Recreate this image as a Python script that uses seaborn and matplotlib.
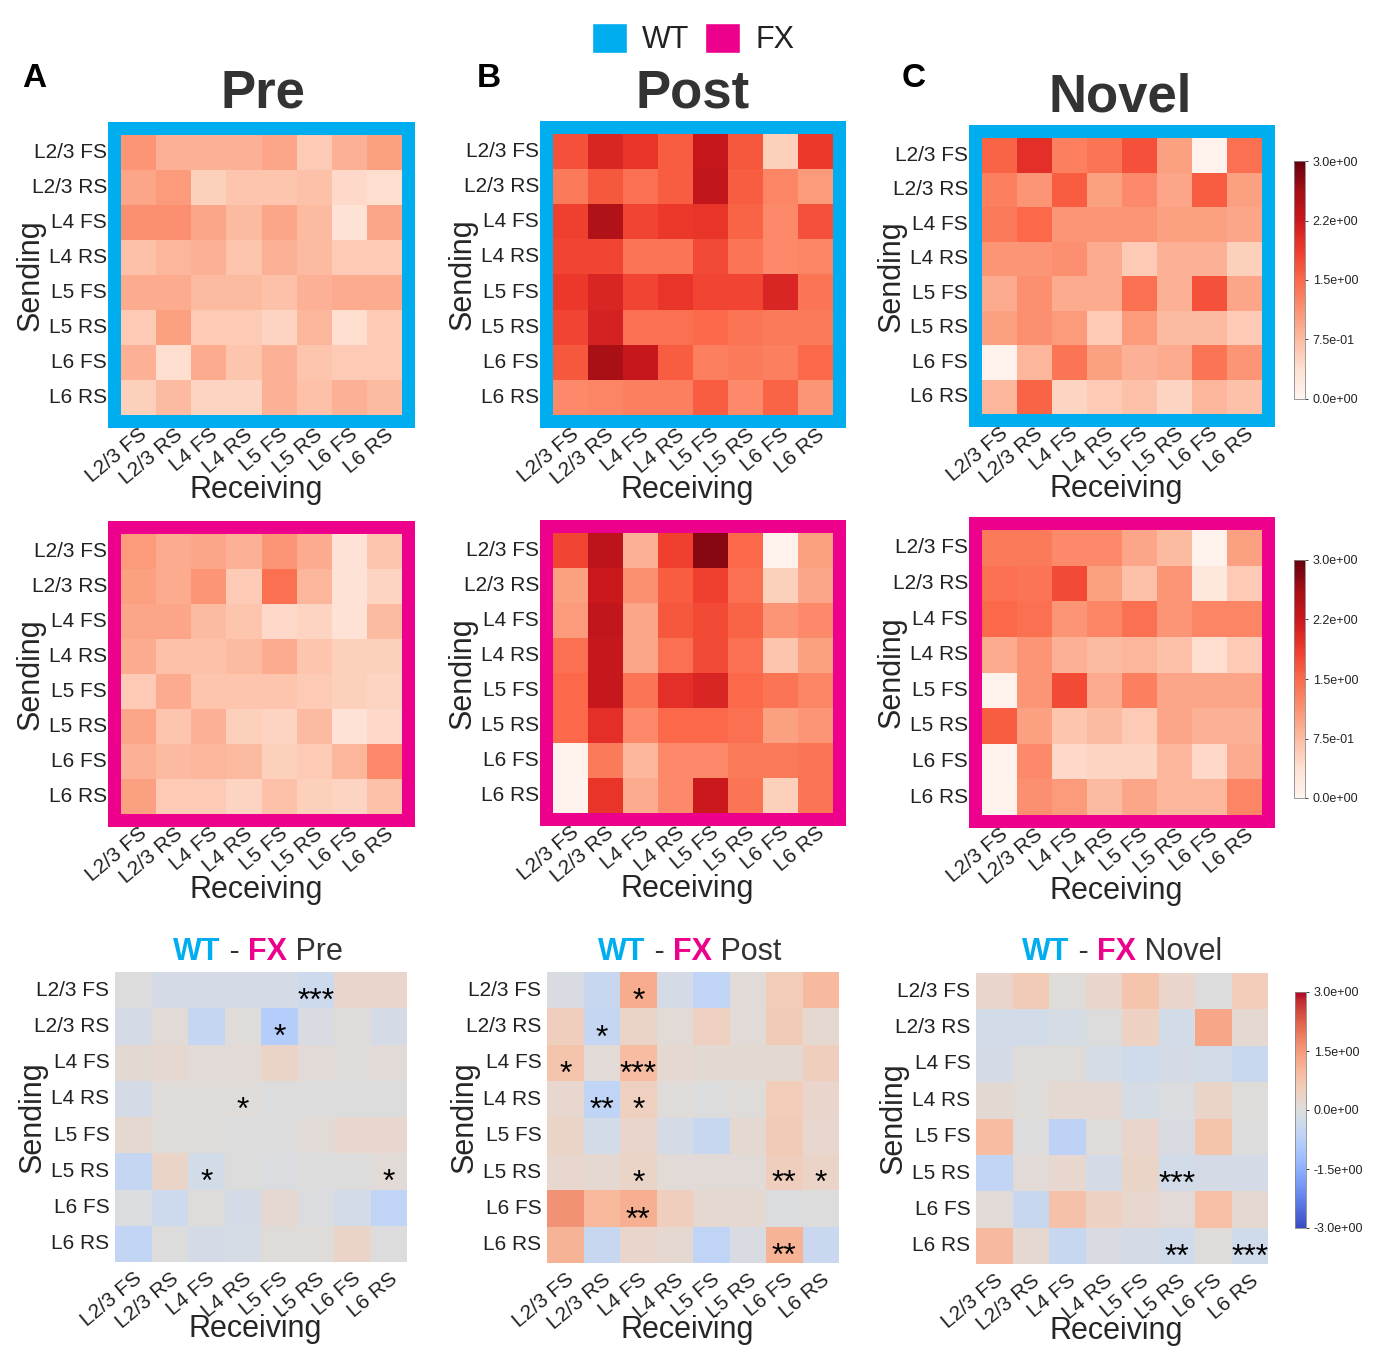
import numpy as np
import pandas as pd
import matplotlib
matplotlib.use("Agg")
import matplotlib.pyplot as plt
import seaborn as sns
from matplotlib.patches import Rectangle, Patch

# Datos

cells = ["L2/3 FS", "L2/3 RS", "L4 FS", "L4 RS", "L5 FS", "L5 RS", "L6 FS", "L6 RS"]
conditions = ["Pre", "Post", "Novel"]

wt_pre = [
    [1.10, 0.85, 0.85, 0.85, 0.95, 0.60, 0.85, 1.00],
    [0.95, 1.05, 0.55, 0.65, 0.65, 0.70, 0.45, 0.40],
    [1.15, 1.15, 0.95, 0.75, 0.95, 0.75, 0.35, 0.95],
    [0.70, 0.80, 0.85, 0.65, 0.85, 0.75, 0.60, 0.60],
    [0.90, 0.90, 0.75, 0.75, 0.70, 0.85, 0.90, 0.90],
    [0.60, 1.00, 0.60, 0.60, 0.50, 0.80, 0.40, 0.60],
    [0.85, 0.40, 0.90, 0.65, 0.85, 0.65, 0.60, 0.60],
    [0.55, 0.75, 0.50, 0.50, 0.85, 0.70, 0.85, 0.75],
]
wt_post = [
    [1.70, 2.10, 1.95, 1.60, 2.30, 1.65, 0.55, 1.90],
    [1.35, 1.65, 1.45, 1.60, 2.35, 1.60, 1.25, 1.05],
    [1.85, 2.50, 1.80, 1.90, 1.95, 1.55, 1.20, 1.70],
    [1.80, 1.80, 1.40, 1.40, 1.75, 1.40, 1.20, 1.25],
    [1.90, 2.10, 1.80, 1.95, 1.80, 1.80, 2.10, 1.40],
    [1.80, 2.15, 1.45, 1.45, 1.50, 1.40, 1.35, 1.35],
    [1.65, 2.60, 2.30, 1.60, 1.30, 1.35, 1.30, 1.50],
    [1.20, 1.25, 1.30, 1.30, 1.60, 1.20, 1.55, 1.10],
]
wt_novel = [
    [1.55, 2.00, 1.30, 1.40, 1.70, 1.00, 0.05, 1.45],
    [1.30, 1.10, 1.60, 1.00, 1.20, 0.95, 1.60, 1.00],
    [1.35, 1.50, 1.10, 1.10, 1.10, 1.00, 1.00, 0.95],
    [1.10, 1.10, 1.15, 0.90, 0.60, 0.85, 0.85, 0.55],
    [0.90, 1.15, 0.90, 0.90, 1.45, 0.85, 1.70, 0.95],
    [1.00, 1.15, 1.05, 0.60, 1.05, 0.75, 0.75, 0.60],
    [0.05, 0.80, 1.40, 1.00, 0.85, 0.90, 1.40, 1.10],
    [0.80, 1.55, 0.50, 0.60, 0.70, 0.50, 0.80, 0.70],
]
fx_pre = [
    [1.05, 0.90, 0.95, 0.85, 1.10, 0.90, 0.35, 0.65],
    [1.00, 0.90, 1.10, 0.60, 1.45, 0.80, 0.35, 0.50],
    [0.95, 0.95, 0.75, 0.65, 0.45, 0.50, 0.35, 0.75],
    [0.90, 0.70, 0.70, 0.75, 0.90, 0.65, 0.55, 0.55],
    [0.60, 0.90, 0.65, 0.65, 0.65, 0.60, 0.55, 0.50],
    [0.95, 0.65, 0.85, 0.55, 0.50, 0.75, 0.35, 0.45],
    [0.85, 0.75, 0.80, 0.75, 0.55, 0.60, 0.80, 1.20],
    [1.00, 0.60, 0.60, 0.50, 0.70, 0.55, 0.50, 0.70],
]
fx_post = [
    [1.80, 2.40, 0.85, 1.85, 2.80, 1.50, 0.05, 1.00],
    [1.00, 2.25, 1.15, 1.60, 1.85, 1.45, 0.55, 0.95],
    [1.05, 2.35, 0.95, 1.65, 1.75, 1.55, 1.10, 1.20],
    [1.45, 2.30, 0.95, 1.45, 1.75, 1.45, 0.65, 1.00],
    [1.50, 2.30, 1.40, 2.00, 2.10, 1.50, 1.40, 1.25],
    [1.50, 2.00, 1.20, 1.50, 1.50, 1.45, 1.00, 1.10],
    [0.05, 1.35, 0.80, 1.20, 1.20, 1.35, 1.35, 1.40],
    [0.05, 1.95, 0.90, 1.20, 2.25, 1.40, 0.55, 1.40],
]
fx_novel = [
    [1.35, 1.35, 1.20, 1.20, 0.95, 0.75, 0.05, 1.00],
    [1.45, 1.40, 1.75, 1.00, 0.70, 1.10, 0.25, 0.60],
    [1.50, 1.45, 1.10, 1.25, 1.45, 1.10, 1.25, 1.25],
    [0.90, 1.10, 0.85, 0.75, 0.80, 0.70, 0.40, 0.60],
    [0.05, 1.10, 1.75, 0.90, 1.30, 0.95, 0.95, 0.95],
    [1.60, 1.00, 0.65, 0.75, 0.60, 0.95, 0.85, 0.85],
    [0.05, 1.20, 0.45, 0.50, 0.50, 0.80, 0.45, 0.90],
    [0.05, 1.15, 1.05, 0.75, 0.95, 0.80, 0.80, 1.25],
]
diff_pre = [
    [0.00, -0.20, -0.20, -0.20, -0.20, -0.35, 0.30, 0.30],
    [-0.20, 0.10, -0.50, 0.05, -0.80, -0.10, 0.05, -0.20],
    [0.15, 0.20, 0.10, 0.10, 0.35, 0.10, 0.05, 0.10],
    [-0.20, 0.05, 0.05, 0.05, 0.00, 0.00, 0.00, 0.00],
    [0.20, 0.05, 0.05, 0.00, 0.00, 0.10, 0.25, 0.25],
    [-0.50, 0.35, -0.25, 0.00, -0.05, 0.00, 0.00, 0.10],
    [-0.05, -0.35, 0.05, -0.20, 0.20, -0.05, -0.25, -0.60],
    [-0.55, 0.00, -0.20, -0.15, 0.05, 0.05, 0.35, 0.00],
]
diff_post = [
    [-0.10, -0.45, 1.20, -0.20, -0.60, 0.10, 0.55, 0.95],
    [0.50, -0.50, 0.35, 0.10, 0.45, 0.10, 0.60, 0.20],
    [0.75, 0.10, 0.90, 0.20, 0.15, 0.15, 0.15, 0.50],
    [0.25, -0.60, 0.45, 0.05, 0.00, 0.05, 0.55, 0.30],
    [0.35, -0.25, 0.30, -0.20, -0.45, 0.20, 0.60, 0.25],
    [0.25, 0.20, 0.35, 0.10, 0.10, 0.10, 0.50, 0.35],
    [1.60, 1.00, 1.15, 0.50, 0.20, 0.20, -0.05, 0.00],
    [1.10, -0.45, 0.30, 0.20, -0.60, -0.10, 1.10, -0.40],
]
diff_novel = [
    [0.30, 0.60, 0.05, 0.30, 0.75, 0.30, 0.00, 0.55],
    [-0.25, -0.25, -0.15, 0.00, 0.40, -0.25, 1.30, 0.20],
    [-0.20, 0.05, 0.05, -0.15, -0.30, -0.20, -0.25, -0.40],
    [0.15, 0.05, 0.20, 0.20, -0.15, -0.05, 0.35, 0.05],
    [0.90, 0.00, -0.65, 0.05, 0.30, -0.10, 0.75, 0.00],
    [-0.55, 0.10, 0.25, -0.20, 0.35, -0.25, -0.20, -0.20],
    [0.10, -0.45, 0.80, 0.40, 0.25, 0.10, 0.85, 0.20],
    [0.95, 0.20, -0.45, -0.10, -0.20, -0.30, 0.05, -0.30],
]

# significancia: (fila, columna, texto)
stars_pre = [(0, 5, "***"), (1, 4, "*"), (3, 3, "*"), (5, 2, "*"), (5, 7, "*")]
stars_post = [(0, 2, "*"), (1, 1, "*"), (2, 0, "*"), (2, 2, "***"), (3, 1, "**"),
              (3, 2, "*"), (5, 2, "*"), (5, 6, "**"), (5, 7, "*"), (6, 2, "**"),
              (7, 6, "**")]
stars_novel = [(5, 5, "***"), (7, 5, "**"), (7, 7, "***")]

wt_data = [wt_pre, wt_post, wt_novel]
fx_data = [fx_pre, fx_post, fx_novel]
diff_data = [diff_pre, diff_post, diff_novel]
stars_data = [stars_pre, stars_post, stars_novel]

reds_ticks = [0, 0.75, 1.5, 2.25, 3.0]
diff_ticks = [-3.0, -1.5, 0.0, 1.5, 3.0]

WT_COLOR = "#00AEEF"
FX_COLOR = "#EC008C"
DARK = "#333333"

# Layout (pixeles)

sns.set_style("white")
plt.rcParams["font.family"] = ["Liberation Sans", "DejaVu Sans"]
plt.rcParams["text.color"] = "#222222"
plt.rcParams["xtick.color"] = "#222222"
plt.rcParams["ytick.color"] = "#222222"

W, H = 1375, 1359
fig = plt.figure(figsize=(W / 100, H / 100), dpi=100)


def box(l, t, r, b):
    return [l / W, 1 - b / H, (r - l) / W, (b - t) / H]


top_boxes = [(121, 135, 402, 415), (553, 134, 833, 415), (982, 138, 1262, 414)]
mid_boxes = [(121, 534, 402, 814), (553, 533, 833, 813), (982, 530, 1262, 815)]
bot_boxes = [(115, 972, 407, 1262), (547, 972, 839, 1263), (976, 973, 1268, 1264)]
cbar_boxes = [(1294, 161, 1305, 399), (1294, 560, 1305, 798), (1295, 992, 1306, 1228)]
frame_w = 13


def style_axes(ax, px, ylab_off, xlab_off, ypad, xpad, ticklen=0):
    l, t, r, b = px
    ax.tick_params(axis="y", length=0, labelsize=15, pad=ypad)
    ax.tick_params(axis="x", length=ticklen, labelsize=15, pad=xpad)
    ax.set_yticklabels(ax.get_yticklabels(), rotation=0)
    ax.set_xticklabels(ax.get_xticklabels(), rotation=40, ha="right",
                       rotation_mode="anchor")
    ax.set_ylabel("Sending", fontsize=22)
    ax.set_xlabel("Receiving", fontsize=22)
    # la etiqueta y rotada queda anclada por su borde derecho
    ax.yaxis.set_label_coords(-ylab_off / (r - l), 0.5)
    ax.xaxis.set_label_coords(0.48, -xlab_off / (b - t))


def style_cbar(cax):
    cax.tick_params(labelsize=9, length=2, width=0.6)
    for sp in cax.spines.values():
        sp.set_linewidth(0.6)
        sp.set_edgecolor("#888888")


# Filas WT y FX
for row, (datasets, boxes, color, xoff) in enumerate(
        [(wt_data, top_boxes, WT_COLOR, 60), (fx_data, mid_boxes, FX_COLOR, 61)]):
    for i, (mat, px) in enumerate(zip(datasets, boxes)):
        l, t, r, b = px
        fig.add_artist(Rectangle(((l - frame_w) / W, 1 - (b + frame_w) / H),
                                 (r - l + 2 * frame_w) / W, (b - t + 2 * frame_w) / H,
                                 transform=fig.transFigure, facecolor=color,
                                 edgecolor="none", zorder=-1))
        ax = fig.add_axes(box(*px))
        df = pd.DataFrame(mat, index=cells, columns=cells)
        if i == 2:
            cax = fig.add_axes(box(*cbar_boxes[row]))
            sns.heatmap(df, ax=ax, cmap="Reds", vmin=0, vmax=3, cbar_ax=cax,
                        cbar_kws={"ticks": reds_ticks, "format": "%.1e"})
            style_cbar(cax)
        else:
            sns.heatmap(df, ax=ax, cmap="Reds", vmin=0, vmax=3, cbar=False)
        style_axes(ax, px, 75, xoff, ypad=10, xpad=7)

# Fila de diferencias
for i, (mat, px, stars, cond) in enumerate(zip(diff_data, bot_boxes, stars_data, conditions)):
    ax = fig.add_axes(box(*px))
    df = pd.DataFrame(mat, index=cells, columns=cells)
    if i == 2:
        cax = fig.add_axes(box(*cbar_boxes[2]))
        sns.heatmap(df, ax=ax, cmap="coolwarm", vmin=-3, vmax=3, cbar_ax=cax,
                    cbar_kws={"ticks": diff_ticks, "format": "%.1e"})
        style_cbar(cax)
    else:
        sns.heatmap(df, ax=ax, cmap="coolwarm", vmin=-3, vmax=3, cbar=False)
    for rr, cc, s in stars:
        ax.text(cc + 0.5, rr + 1.05, s, ha="center", va="baseline",
                fontsize=23, color="black")
    style_axes(ax, px, 67, 52, ypad=4, xpad=2, ticklen=3)

    # titulo multicolor "WT - FX Cond"
    x0 = [173, 598, 1022][i]
    t0 = fig.text(x0 / W, 1 - 960 / H, "WT", color=WT_COLOR, fontsize=22,
                  weight="bold", va="baseline")
    prev = t0
    for s, c, w in [(" - ", DARK, "normal"), ("FX", FX_COLOR, "bold"),
                    (" " + cond, DARK, "normal")]:
        prev = ax.annotate(s, xy=(1, 0), xycoords=prev, va="bottom", ha="left",
                           color=c, fontsize=22, weight=w, annotation_clip=False)

# Titulos y letras
for cond, xc, yb in zip(conditions, [263, 693, 1120], [107, 107, 112]):
    fig.text(xc / W, 1 - yb / H, cond, ha="center", va="baseline",
             fontsize=38, weight="bold", color=DARK)
for letter, xl in zip(["A", "B", "C"], [22, 477, 902]):
    fig.text(xl / W, 1 - 87 / H, letter, ha="left", va="baseline",
             fontsize=24, weight="bold", color="black")

# Leyenda
fig.legend(handles=[Patch(facecolor=WT_COLOR), Patch(facecolor=FX_COLOR)],
           labels=["WT", "FX"], ncol=2, loc="center",
           bbox_to_anchor=(693 / W, 1 - 39 / H), frameon=False, fontsize=22,
           handlelength=1.15, handleheight=1.15, columnspacing=0.5,
           handletextpad=0.5)

plt.savefig("out.png", dpi=100)
